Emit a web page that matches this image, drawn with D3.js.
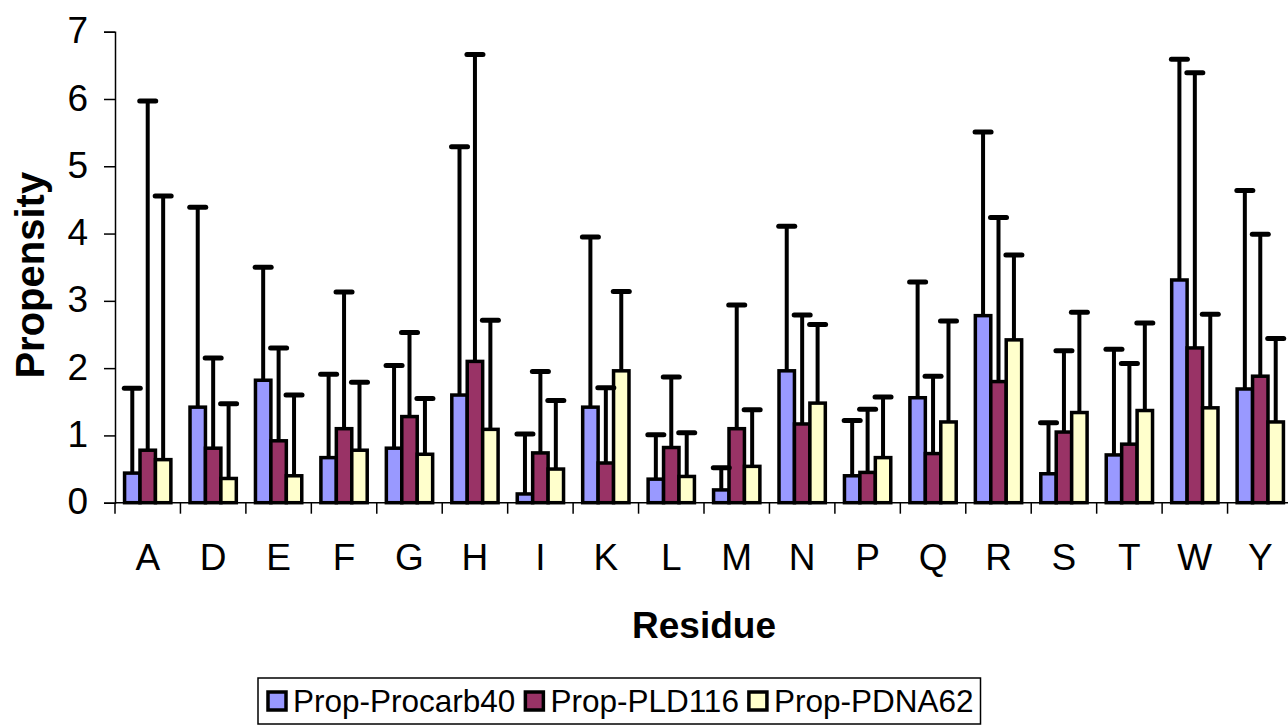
<!DOCTYPE html>
<html>
<head>
<meta charset="utf-8">
<script src="https://cdn.jsdelivr.net/npm/d3@7/dist/d3.min.js"></script>
<style>
  body { margin: 0; background: #fff; }
  text { font-family: Arial, "Liberation Sans", sans-serif; fill: #000; }
</style>
</head>
<body>
<svg id="chart" width="1288" height="725"></svg>
<script>
const residues = ["A","D","E","F","G","H","I","K","L","M","N","P","Q","R","S","T","W","Y"];
const seriesNames = ["Prop-Procarb40", "Prop-PLD116", "Prop-PDNA62"];
const seriesColors = ["#9999ff", "#993366", "#ffffcc"];

// bar heights
const procarb40 = [0.44,1.42,1.82,0.67,0.81,1.60,0.13,1.42,0.35,0.19,1.96,0.40,1.56,2.78,0.43,0.71,3.31,1.69];
const pld116    = [0.78,0.81,0.92,1.10,1.28,2.10,0.74,0.59,0.82,1.10,1.17,0.45,0.73,1.80,1.05,0.87,2.30,1.88];
const pdna62    = [0.64,0.36,0.40,0.78,0.72,1.09,0.50,1.96,0.39,0.54,1.48,0.67,1.20,2.42,1.34,1.37,1.41,1.20];

// plus error (sd)
const procarb40Err = [1.26,2.97,1.68,1.24,1.23,3.69,0.89,2.53,0.66,0.33,2.15,0.82,1.72,2.73,0.76,1.57,3.28,2.95];
const pld116Err    = [5.19,1.34,1.38,2.03,1.25,4.56,1.21,1.12,1.05,1.84,1.62,0.94,1.15,2.44,1.21,1.20,4.09,2.11];
const pdna62Err    = [3.92,1.11,1.20,1.01,0.83,1.62,1.02,1.18,0.65,0.84,1.17,0.90,1.50,1.26,1.49,1.30,1.39,1.24];

const yTicks = [0,1,2,3,4,5,6,7];

const values = [procarb40, pld116, pdna62];
const errors = [procarb40Err, pld116Err, pdna62Err];

const svg = d3.select("#chart");
svg.append("rect").attr("width", 1288).attr("height", 725).attr("fill", "#fff");

const mLeft = 115, mRight = 1293, mTop = 31.7, mBottom = 502.7;

let x = d3.scaleBand().domain(residues).range([mLeft, mRight]).padding(0);
let x1 = d3.scaleBand().domain(d3.range(3)).range([0, x.bandwidth()])
    .paddingInner(0).paddingOuter(0.62);
let y = d3.scaleLinear().domain([0, 7]).range([mBottom, mTop]);

let rows = [];
residues.forEach(function(r, i) {
  for (let s = 0; s < 3; s++) {
    rows.push({ r: r, s: s, v: values[s][i], e: errors[s][i] });
  }
});

let mid = d => x(d.r) + x1(d.s) + x1.bandwidth() / 2;

// bars
svg.append("g").selectAll("rect")
  .data(rows)
  .enter()
  .append("rect")
  .attr("x", d => x(d.r) + x1(d.s))
  .attr("y", d => y(d.v))
  .attr("width", x1.bandwidth())
  .attr("height", d => y(0) - y(d.v))
  .attr("fill", d => seriesColors[d.s])
  .attr("stroke", "#000")
  .attr("stroke-width", 3.5);

// error bars (plus only)
let eg = svg.append("g");
eg.selectAll("line.stem")
  .data(rows)
  .enter()
  .append("line")
  .attr("class", "stem")
  .attr("x1", mid)
  .attr("x2", mid)
  .attr("y1", d => y(d.v))
  .attr("y2", d => y(d.v + d.e))
  .attr("stroke", "#000")
  .attr("stroke-width", 4);
eg.selectAll("line.cap")
  .data(rows)
  .enter()
  .append("line")
  .attr("class", "cap")
  .attr("x1", d => mid(d) - 8)
  .attr("x2", d => mid(d) + 8)
  .attr("y1", d => y(d.v + d.e))
  .attr("y2", d => y(d.v + d.e))
  .attr("stroke", "#000")
  .attr("stroke-width", 5)
  .attr("stroke-linecap", "round");

// y axis
let yAxis = svg.append("g")
  .attr("transform", "translate(" + mLeft + ",0)")
  .call(d3.axisLeft(y).tickValues(yTicks).tickFormat(d3.format("d"))
    .tickSize(11).tickPadding(16));
yAxis.select(".domain").attr("stroke", "#000").attr("stroke-width", 1.5);
yAxis.selectAll(".tick line").attr("stroke", "#000").attr("stroke-width", 1.5);
yAxis.selectAll(".tick text")
  .attr("font-size", 37).attr("font-family", "Arial, 'Liberation Sans', sans-serif")
  .attr("fill", "#000").attr("dy", "0.3em");

// x axis
let xAxis = svg.append("g")
  .attr("transform", "translate(0," + mBottom + ")");
xAxis.append("line")
  .attr("x1", mLeft).attr("x2", mRight).attr("y1", 0).attr("y2", 0)
  .attr("stroke", "#000").attr("stroke-width", 1.5);
xAxis.selectAll("line.tk")
  .data(residues)
  .enter()
  .append("line")
  .attr("class", "tk")
  .attr("x1", d => x(d)).attr("x2", d => x(d))
  .attr("y1", 0).attr("y2", 11)
  .attr("stroke", "#000").attr("stroke-width", 1.5);
xAxis.selectAll("text")
  .data(residues)
  .enter()
  .append("text")
  .attr("x", d => x(d) + x.bandwidth() / 2)
  .attr("y", 67)
  .attr("text-anchor", "middle")
  .attr("font-size", 37)
  .text(d => d);

// axis titles
svg.append("text")
  .attr("x", (mLeft + mRight) / 2)
  .attr("y", 638)
  .attr("text-anchor", "middle")
  .attr("font-size", 37)
  .attr("font-weight", "bold")
  .text("Residue");

svg.append("text")
  .attr("transform", "translate(44," + ((mTop + mBottom) / 2 + 8) + ") rotate(-90)")
  .attr("text-anchor", "middle")
  .attr("font-size", 40)
  .attr("font-weight", "bold")
  .text("Propensity");

// legend
let lg = svg.append("g");
let box = lg.append("rect")
  .attr("x", 258).attr("y", 678).attr("height", 46)
  .attr("fill", "#fff").attr("stroke", "#000").attr("stroke-width", 1.5);
let cx = 268;
seriesNames.forEach(function(name, i) {
  lg.append("rect")
    .attr("x", cx).attr("y", 692).attr("width", 18).attr("height", 18)
    .attr("fill", seriesColors[i]).attr("stroke", "#000").attr("stroke-width", 3.5);
  let t = lg.append("text")
    .attr("x", cx + 25).attr("y", 712)
    .attr("font-size", 31.5)
    .text(name);
  cx = cx + 25 + t.node().getComputedTextLength() + 10;
});
box.attr("width", cx - 258 - 3);
</script>
</body>
</html>
